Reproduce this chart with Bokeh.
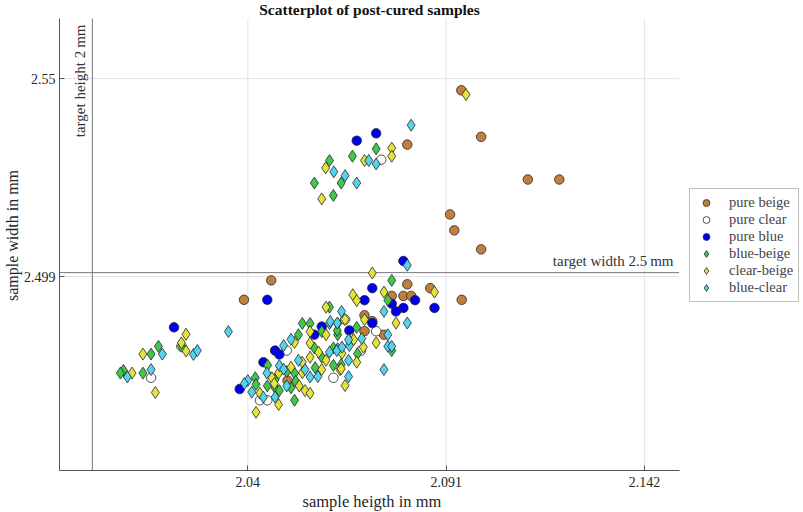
import math
from bokeh.plotting import figure
from bokeh.models import (Legend, LegendItem, Label, FixedTicker, Title)
from bokeh.embed import file_html
from bokeh.resources import INLINE

# ---------------- data (mm) ----------------
beige_h = [2.0949, 2.1000, 2.1120, 2.1201, 2.0920, 2.0931, 2.1000, 2.0810, 2.0950, 2.0810,
           2.0869, 2.0770, 2.0800, 2.0820, 2.0700, 2.0720, 2.0700, 2.0750, 2.0390, 2.0460, 2.0502]
beige_w = [2.5470, 2.5350, 2.5240, 2.5240, 2.5150, 2.5109, 2.5060, 2.5330, 2.4930, 2.4970,
           2.4960, 2.4940, 2.4940, 2.4940, 2.4890, 2.4875, 2.4849, 2.4840, 2.4930, 2.4980, 2.4722]

clear_h = [2.0743, 2.0730, 2.0650, 2.0500, 2.0620, 2.0431, 2.0450, 2.0229, 2.0151, 2.0691]
clear_w = [2.5291, 2.4849, 2.4879, 2.4799, 2.4729, 2.4671, 2.4671, 2.4810, 2.4729, 2.4799]

blue_h = [2.0680, 2.0730, 2.0800, 2.0720, 2.0830, 2.0770, 2.0700, 2.0800, 2.0880, 2.0781,
          2.0720, 2.0661, 2.0450, 2.0590, 2.0571, 2.0470, 2.0481, 2.0440, 2.0379, 2.0210]
blue_w = [2.5340, 2.5359, 2.5030, 2.4960, 2.4929, 2.4920, 2.4929, 2.4909, 2.4909, 2.4900,
          2.4870, 2.4851, 2.4930, 2.4861, 2.4840, 2.4799, 2.4789, 2.4769, 2.4700, 2.4859]

bb_h = [2.0730, 2.0669, 2.0610, 2.0640, 2.0571, 2.0620, 2.0770, 2.0760, 2.0680, 2.0770,
        2.0610, 2.0540, 2.0560, 2.0631, 2.0530, 2.0590, 2.0631, 2.0571, 2.0620, 2.0590,
        2.0451, 2.0640, 2.0573, 2.0500, 2.0520, 2.0470, 2.0419, 2.0421, 2.0450, 2.0470,
        2.0523, 2.0511, 2.0481, 2.0520, 2.0630, 2.0620, 2.0682, 2.0229, 2.0170, 2.0151,
        2.0080, 2.0072, 2.0130]
bb_w = [2.5319, 2.5300, 2.5289, 2.5231, 2.5231, 2.5199, 2.4980, 2.4929, 2.4859, 2.4799,
        2.4911, 2.4869, 2.4869, 2.4869, 2.4840, 2.4848, 2.4840, 2.4806, 2.4806, 2.4782,
        2.4761, 2.4763, 2.4755, 2.4745, 2.4741, 2.4724, 2.4729, 2.4712, 2.4708, 2.4703,
        2.4720, 2.4703, 2.4696, 2.4671, 2.4851, 2.4761, 2.4791, 2.4810, 2.4810, 2.4790,
        2.4748, 2.4741, 2.4741]

cb_h = [2.0961, 2.0770, 2.0770, 2.0700, 2.0600, 2.0590, 2.0720, 2.0880, 2.0750, 2.0670,
        2.0680, 2.0700, 2.0781, 2.0650, 2.0668, 2.0730, 2.0601, 2.0560, 2.0601, 2.0560,
        2.0520, 2.0582, 2.0601, 2.0540, 2.0560, 2.0590, 2.0637, 2.0511, 2.0479, 2.0540,
        2.0462, 2.0468, 2.0532, 2.0547, 2.0560, 2.0431, 2.0479, 2.0421, 2.0642, 2.0640,
        2.0650, 2.0697, 2.0680, 2.0672, 2.0241, 2.0229, 2.0241, 2.0130, 2.0102, 2.0162]
cb_w = [2.5459, 2.5321, 2.5300, 2.5289, 2.5270, 2.5190, 2.4999, 2.4950, 2.4950, 2.4943,
        2.4928, 2.4879, 2.4870, 2.4879, 2.4830, 2.4819, 2.4911, 2.4848, 2.4840, 2.4818,
        2.4820, 2.4795, 2.4774, 2.4769, 2.4782, 2.4750, 2.4750, 2.4756, 2.4741, 2.4742,
        2.4729, 2.4714, 2.4708, 2.4696, 2.4689, 2.4689, 2.4660, 2.4640, 2.4792, 2.4752,
        2.4709, 2.4808, 2.4769, 2.4827, 2.4841, 2.4819, 2.4798, 2.4790, 2.4741, 2.4691]

bc_h = [2.0820, 2.0730, 2.0711, 2.0621, 2.0650, 2.0680, 2.0810, 2.0750, 2.0810, 2.0641,
        2.0630, 2.0760, 2.0693, 2.0760, 2.0770, 2.0750, 2.0610, 2.0511, 2.0492, 2.0610,
        2.0631, 2.0530, 2.0547, 2.0481, 2.0492, 2.0449, 2.0560, 2.0580, 2.0400, 2.0391,
        2.0500, 2.0410, 2.0440, 2.0470, 2.0629, 2.0642, 2.0659, 2.0659, 2.0661, 2.0659,
        2.0612, 2.0350, 2.0260, 2.0270, 2.0180, 2.0090, 2.0151]
bc_w = [2.5380, 2.5280, 2.5289, 2.5260, 2.5250, 2.5231, 2.5019, 2.4900, 2.4870, 2.4900,
        2.4870, 2.4840, 2.4830, 2.4810, 2.4810, 2.4750, 2.4869, 2.4828, 2.4812, 2.4795,
        2.4804, 2.4774, 2.4750, 2.4760, 2.4751, 2.4741, 2.4731, 2.4732, 2.4722, 2.4714,
        2.4708, 2.4692, 2.4679, 2.4679, 2.4799, 2.4808, 2.4774, 2.4732, 2.4812, 2.4827,
        2.4874, 2.4848, 2.4789, 2.4799, 2.4790, 2.4731, 2.4750]

series_names = ["pure beige", "pure clear", "pure blue", "blue-beige", "clear-beige", "blue-clear"]
x_ticks = [2.04, 2.091, 2.142]
x_tick_labels = ["2.04", "2.091", "2.142"]
y_ticks = [2.499, 2.55]
y_tick_labels = ["2.499", "2.55"]
target_height = 2.0
target_width = 2.5

# axes limits (what the axes show) and the extra room used for title/legend
x_lim = (1.99155, 2.1509)
y_lim = (2.449, 2.5655)
x_view_end = 2.18214
y_view_end = 2.57014

FONT = "Liberation Serif"
EDGE = "#262626"
GRID = "#e3e3e3"
TARGET = "#777777"

p = figure(width=800, height=512, x_range=(x_lim[0], x_view_end), y_range=(y_lim[0], y_view_end),
           min_border_left=59, min_border_right=0, min_border_top=0, min_border_bottom=42,
           output_backend="svg", toolbar_location=None)
p.outline_line_color = None
p.background_fill_color = "white"
p.xgrid.grid_line_color = None
p.ygrid.grid_line_color = None

p.yaxis.axis_label = "sample width in mm"
p.xaxis.bounds = x_lim
p.yaxis.bounds = y_lim
for ax, ticks, labs in ((p.xaxis, x_ticks, x_tick_labels), (p.yaxis, y_ticks, y_tick_labels)):
    ax.ticker = FixedTicker(ticks=ticks)
    ax.major_label_overrides = {t: l for t, l in zip(ticks, labs)}
    ax.major_tick_in = 5
    ax.major_tick_out = 0
    ax.minor_tick_line_color = None
    ax.axis_line_color = "#555555"
    ax.major_tick_line_color = "#555555"
    ax.major_label_text_font = FONT
    ax.major_label_text_font_size = "14px"
    ax.major_label_text_color = "#262626"
    ax.axis_label_text_font = FONT
    ax.axis_label_text_font_size = "16px"
    ax.axis_label_text_font_style = "normal"
    ax.axis_label_text_color = "#262626"
    ax.axis_label_standoff = 0
p.yaxis.major_label_standoff = 4
p.xaxis.major_label_standoff = 6

p.add_layout(Title(text="sample heigth in mm", align="left", offset=243, standoff=0,
                   text_font=FONT, text_font_size="16.5px", text_font_style="normal",
                   text_color="#262626"), "below")

# grid lines, limited to the axes box
p.segment(x0=x_ticks, x1=x_ticks, y0=[y_lim[0]] * len(x_ticks), y1=[y_lim[1]] * len(x_ticks),
          line_color=GRID, line_width=1)
p.segment(x0=[x_lim[0]] * len(y_ticks), x1=[x_lim[1]] * len(y_ticks), y0=y_ticks, y1=y_ticks,
          line_color=GRID, line_width=1)
# target lines
p.segment(x0=[target_height], x1=[target_height], y0=[y_lim[0]], y1=[y_lim[1]],
          line_color=TARGET, line_width=1)
p.segment(x0=[x_lim[0]], x1=[x_lim[1]], y0=[target_width], y1=[target_width],
          line_color=TARGET, line_width=1)

specs = [
    (beige_h, beige_w, "circle", 9.5, "#C17F3E"),
    (clear_h, clear_w, "circle", 9.5, "#FFFFFF"),
    (blue_h, blue_w, "circle", 9.5, "#0000F0"),
    (bb_h, bb_w, "diamond", 12, "#3FC84A"),
    (cb_h, cb_w, "diamond", 12, "#E3E33C"),
    (bc_h, bc_w, "diamond", 12, "#55D2EE"),
]
renderers = []
for hx, wy, mk, sz, col in specs:
    r = p.scatter(hx, wy, marker=mk, size=sz, fill_color=col, line_color=EDGE, line_width=0.8)
    renderers.append(r)

legend = Legend(items=[LegendItem(label=n, renderers=[r]) for n, r in zip(series_names, renderers)],
                location=(630, 168), orientation="vertical",
                label_text_font=FONT, label_text_font_size="14.5px",
                glyph_width=22, glyph_height=17, spacing=0, padding=5, margin=0,
                label_standoff=12, label_height=17,
                border_line_color="#808080", border_line_width=1,
                background_fill_color="white", background_fill_alpha=1.0)
p.add_layout(legend)

p.add_layout(Label(x=310, y=461, x_units="screen", y_units="screen",
                   text="Scatterplot of post-cured samples", text_font=FONT,
                   text_font_size="15.5px", text_font_style="bold", text_align="center",
                   text_baseline="middle", text_color="#111111"))
p.add_layout(Label(x=target_height, y=446, x_units="data", y_units="screen", angle=math.pi / 2,
                   x_offset=-4, text="target height 2\u2009mm", text_font=FONT,
                   text_font_size="15px", text_align="right", text_baseline="bottom",
                   text_color="#333333"))
p.add_layout(Label(x=614, y=target_width, x_units="screen", y_units="data", y_offset=4,
                   text="target width 2.5\u2009mm", text_font=FONT,
                   text_font_size="15px", text_align="right", text_baseline="bottom",
                   text_color="#333333"))

open("out.html", "w").write(file_html(p, INLINE))
